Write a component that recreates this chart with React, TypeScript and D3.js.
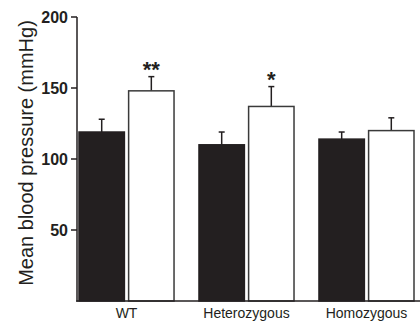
import * as d3 from 'd3';
import React from 'react';

// groups along the x axis
const genotypes = ['WT', 'Heterozygous', 'Homozygous'];
// two bars per group: filled (black) and open (white)
const series = ['black', 'white'];
const meanBlack = [119, 110, 114];
const errBlack = [9, 9, 5];
const meanWhite = [148, 137, 120];
const errWhite = [10, 14, 9];
const stars = ['', '**', '', '*', '', ''];
const yTicks = [50, 100, 150, 200];

const W = 420;
const H = 322;

export default function App() {
  const x = d3.scaleBand().domain(genotypes).range([79, 414]).paddingInner(0.208).paddingOuter(0);
  const xs = d3.scaleBand().domain(series).range([0, x.bandwidth()]).paddingInner(0.085);
  const y = d3.scaleLinear().domain([0, 200]).range([301, 17]);

  const bars = genotypes.flatMap((g, i) => [
    { g, s: 'black', v: meanBlack[i], e: errBlack[i], star: stars[i * 2] },
    { g, s: 'white', v: meanWhite[i], e: errWhite[i], star: stars[i * 2 + 1] },
  ]);

  const ink = '#231f20';

  return (
    <svg width={W} height={H} style={{ position: 'absolute', left: 0, top: 0, background: '#fff' }}
      fontFamily="'Liberation Sans', Arial, sans-serif">
      {/* bars + error bars */}
      {bars.map((b, i) => {
        const bx = (x(b.g) as number) + (xs(b.s) as number);
        const bw = xs.bandwidth();
        const cx = bx + bw / 2;
        const top = y(b.v);
        const etop = y(b.v + b.e);
        return (
          <g key={i}>
            <line x1={cx} x2={cx} y1={top} y2={etop} stroke={ink} strokeWidth={1.5} />
            <line x1={cx - 3} x2={cx + 3} y1={etop} y2={etop} stroke={ink} strokeWidth={1.5} />
            <rect x={bx} y={top} width={bw} height={y(0) - top}
              fill={b.s === 'black' ? ink : '#fff'} stroke={b.s === 'black' ? ink : '#3a3a3a'} strokeWidth={1.5} />
            {b.star && (
              <text x={cx} y={etop} textAnchor="middle" fontSize={22}
                fontWeight="bold" fill={ink}>{b.star}</text>
            )}
          </g>
        );
      })}

      {/* axes */}
      <line x1={77} x2={77} y1={y(200)} y2={y(0) + 0.75} stroke={ink} strokeWidth={1.5} />
      <line x1={76.25} x2={W} y1={y(0)} y2={y(0)} stroke={ink} strokeWidth={1.5} />
      {yTicks.map(t => (
        <g key={t}>
          <line x1={71} x2={77} y1={y(t)} y2={y(t)} stroke={ink} strokeWidth={1.5} />
          <text x={68} y={y(t)} dy="0.36em" textAnchor="end" fontSize={16} fontWeight="bold" fill={ink}>{t}</text>
        </g>
      ))}
      {genotypes.map(g => (
        <text key={g} x={(x(g) as number) + x.bandwidth() / 2} y={318} textAnchor="middle" fontSize={14} fill={ink}>{g}</text>
      ))}
      <text transform="translate(33,153) rotate(-90)" textAnchor="middle" fontSize={20} fill={ink}>
        Mean blood pressure (mmHg)
      </text>
    </svg>
  );
}
